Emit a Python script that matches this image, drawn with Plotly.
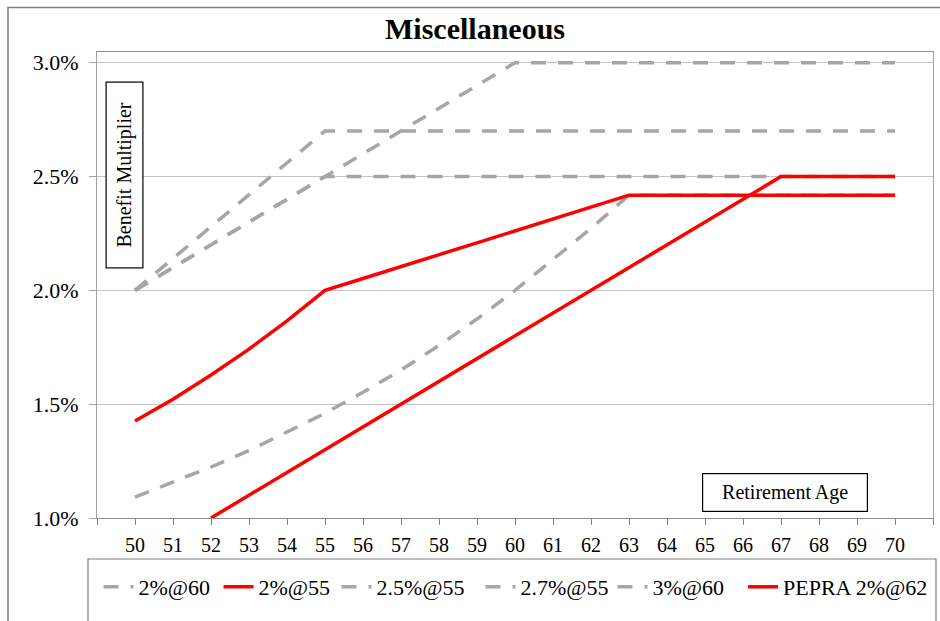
import plotly.graph_objects as go

# Retirement ages on the x axis
ages = list(range(50, 71))

# Benefit multipliers (% of final compensation per year of service)
two_at_60 = [1.092, 1.156, 1.224, 1.296, 1.376, 1.460, 1.552, 1.650, 1.758, 1.874,
             2.000, 2.134, 2.272, 2.418, 2.418, 2.418, 2.418, 2.418, 2.418, 2.418, 2.418]
two_at_55 = [1.426, 1.522, 1.628, 1.742, 1.866, 2.000, 2.052, 2.104, 2.156, 2.210,
             2.262, 2.314, 2.366, 2.418, 2.418, 2.418, 2.418, 2.418, 2.418, 2.418, 2.418]
two_half_at_55 = [2.0, 2.1, 2.2, 2.3, 2.4, 2.5, 2.5, 2.5, 2.5, 2.5,
                  2.5, 2.5, 2.5, 2.5, 2.5, 2.5, 2.5, 2.5, 2.5, 2.5, 2.5]
two_seven_at_55 = [2.0, 2.14, 2.28, 2.42, 2.56, 2.7, 2.7, 2.7, 2.7, 2.7,
                   2.7, 2.7, 2.7, 2.7, 2.7, 2.7, 2.7, 2.7, 2.7, 2.7, 2.7]
three_at_60 = [2.0, 2.1, 2.2, 2.3, 2.4, 2.5, 2.6, 2.7, 2.8, 2.9,
               3.0, 3.0, 3.0, 3.0, 3.0, 3.0, 3.0, 3.0, 3.0, 3.0, 3.0]
pepra_2_at_62 = [None, None, 1.0, 1.1, 1.2, 1.3, 1.4, 1.5, 1.6, 1.7,
                 1.8, 1.9, 2.0, 2.1, 2.2, 2.3, 2.4, 2.5, 2.5, 2.5, 2.5]

series_names = ["2%@60", "2%@55", "2.5%@55", "2.7%@55", "3%@60", "PEPRA 2%@62"]

y_ticks = [1.0, 1.5, 2.0, 2.5, 3.0]
x_ticks = list(range(49, 72))
x_ticktext = ["" if a in (49, 71) else str(a) for a in x_ticks]

W, H = 940, 621
L, R, T, B = 97, 933, 52, 518  # plot area in pixels

FONT = "Liberation Serif, Times New Roman, serif"
GRAY = "#a6a6a6"
RED = "#ff0000"
DASH = "15px,12px"

# one single-entry legend per series, laid out in a row under the axis
LEGEND_LEFT = [98.5, 218.5, 336.5, 480.5, 612.5, 743]
LEGEND_TOP = 566


def px_x(px):
    return (px - L) / (R - L)


def px_y(py):
    return (B - py) / (B - T)


fig = go.Figure()

series = [
    (series_names[0], two_at_60, GRAY, DASH, 0),
    (series_names[2], two_half_at_55, GRAY, DASH, 2),
    (series_names[3], two_seven_at_55, GRAY, DASH, 3),
    (series_names[4], three_at_60, GRAY, DASH, 4),
    (series_names[1], two_at_55, RED, "solid", 1),
    (series_names[5], pepra_2_at_62, RED, "solid", 5),
]
for name, vals, color, dash, slot in series:
    fig.add_trace(go.Scatter(
        x=ages, y=vals, name=name, mode="lines",
        legend="legend" if slot == 0 else f"legend{slot + 1}",
        line=dict(color=color, width=3.5, dash=dash),
    ))

legend_style = dict(orientation="h", xref="container", yref="container",
                    y=1 - LEGEND_TOP / H, xanchor="left", yanchor="top",
                    font=dict(family=FONT, size=22, color="#000000"),
                    itemwidth=30, bgcolor="rgba(0,0,0,0)", borderwidth=0)
legends = {}
for slot, left in enumerate(LEGEND_LEFT):
    key = "legend" if slot == 0 else f"legend{slot + 1}"
    legends[key] = dict(legend_style, x=left / W)

shapes = [
    # outer frame
    dict(type="rect", xref="paper", yref="paper",
         x0=px_x(8), x1=px_x(960), y0=px_y(7.5), y1=px_y(680),
         line=dict(color="#7f7f7f", width=1.5), layer="below"),
    # legend frame
    dict(type="rect", xref="paper", yref="paper",
         x0=px_x(88), x1=px_x(936), y0=px_y(559), y1=px_y(660),
         line=dict(color="#7f7f7f", width=1.2)),
]

annotations = [
    dict(text="Benefit Multiplier", xref="paper", yref="paper",
         x=px_x(124), y=px_y(175.5), xanchor="center", yanchor="middle",
         textangle=-90, showarrow=False, width=185, height=36, borderpad=0,
         bordercolor="#000000", borderwidth=1.2, bgcolor="#ffffff",
         font=dict(family=FONT, size=20, color="#000000")),
    dict(text="Retirement Age", xref="paper", yref="paper",
         x=px_x(784.7), y=px_y(492.7), xanchor="center", yanchor="middle",
         showarrow=False, width=164, height=37, borderpad=0,
         bordercolor="#000000", borderwidth=1.2, bgcolor="#ffffff",
         font=dict(family=FONT, size=20, color="#000000")),
]

fig.update_layout(
    width=W, height=H,
    margin=dict(l=L, r=W - R, t=T, b=H - B, pad=0, autoexpand=False),
    paper_bgcolor="#ffffff", plot_bgcolor="#ffffff",
    font=dict(family=FONT, color="#000000"),
    title=dict(text="<b>Miscellaneous</b>", xref="container", yref="container",
               x=475 / W, y=1 - 28 / H, xanchor="center", yanchor="middle",
               font=dict(family=FONT, size=30, color="#000000")),
    showlegend=True,
    **legends,
    xaxis=dict(range=[49, 71], tickmode="array", tickvals=x_ticks, ticktext=x_ticktext,
               ticks="outside", ticklen=6, tickcolor="#808080", tickwidth=1.2,
               showline=True, linecolor="#8c8c8c", linewidth=1.2, mirror=True,
               showgrid=False, zeroline=False, ticklabelstandoff=3,
               tickfont=dict(family=FONT, size=20, color="#000000")),
    yaxis=dict(range=[1.0, 3.047], tickmode="array", tickvals=y_ticks,
               ticktext=[f"{v:.1f}%" for v in y_ticks],
               ticks="outside", ticklen=7, tickcolor="#a0a0a0", tickwidth=1,
               showline=True, linecolor="#a0a0a0", linewidth=1.2, mirror=True,
               showgrid=True, gridcolor="#c4c4c4", gridwidth=1, zeroline=False,
               ticklabelstandoff=6,
               tickfont=dict(family=FONT, size=22, color="#000000")),
    shapes=shapes,
    annotations=annotations,
)

fig.write_html("out.html")
